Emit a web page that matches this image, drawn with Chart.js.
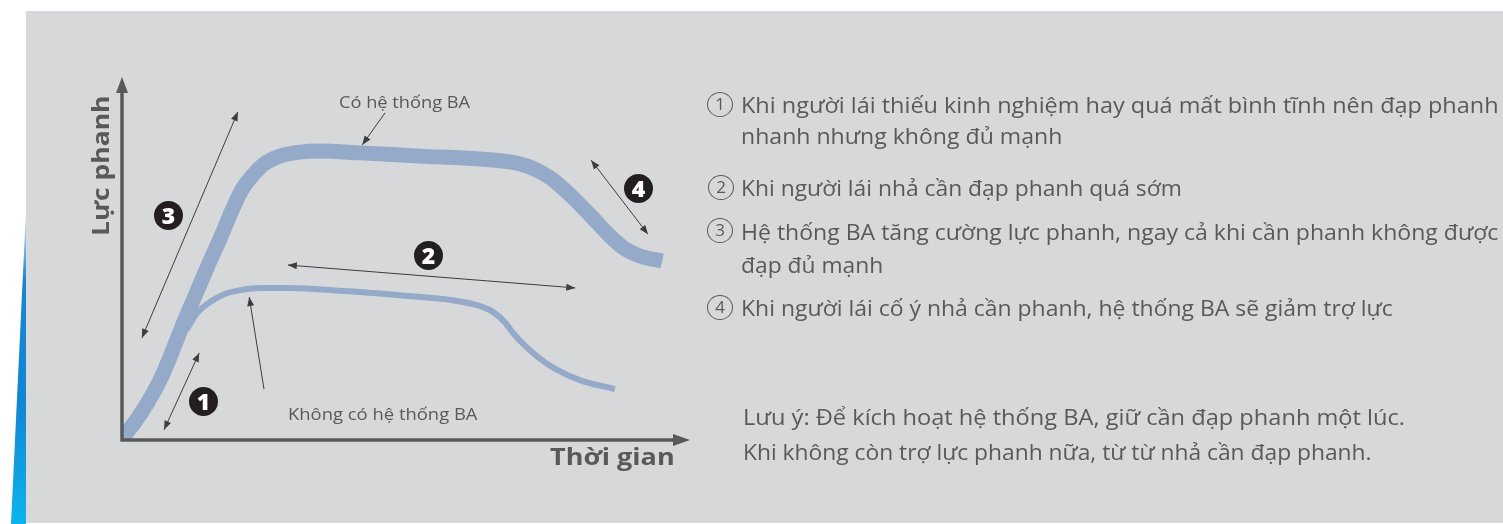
<!DOCTYPE html>
<html lang="vi">
<head>
<meta charset="utf-8">
<script src="https://cdn.jsdelivr.net/npm/chart.js@4.4.1/dist/chart.umd.min.js"></script>
<style>
  html, body { margin:0; padding:0; width:1503px; height:524px; overflow:hidden; background:#ffffff; }
  #panel { position:absolute; left:26px; top:11px; width:1477px; height:512px; background:#d7d8da; }
  #stripe { position:absolute; left:0; top:200px; width:26px; height:324px;
    background:linear-gradient(to bottom, rgba(30,140,215,0) 0px, #1a86d2 80px, #1285d2 200px, #0db4ec 324px);
    clip-path:polygon(26px 10px, 26px 324px, 11px 324px); }
  #c { position:absolute; left:0; top:0; width:1503px; height:524px; }
  .t { position:absolute; white-space:nowrap; line-height:1; color:#58595b; font-family:"Open Sans", sans-serif; transform-origin:0 0; }
  .r { font-size:22px; }
  .lbl { font-size:16px; }
  .ax { font-size:24px; font-weight:700; }
  .num { position:absolute; width:29px; height:29px; border-radius:50%; background:#231f20; color:#fff;
    font-family:"Open Sans", sans-serif; font-weight:800; font-size:23px; line-height:29px; text-align:center; }
  .cn { position:absolute; box-sizing:border-box; width:26px; height:25px; border:1.5px solid #58595b; border-radius:50%; color:#58595b;
    font-family:"Open Sans", sans-serif; font-size:17px; line-height:22px; text-align:center; }
</style>
</head>
<body>
<div id="panel"></div>
<div id="stripe"></div>
<canvas id="c" width="1503" height="524"></canvas>

<div class="t ax" data-w="140" data-rot="1" style="left:88px; top:236px;">Lực phanh</div>
<div class="t ax" data-w="125" style="left:550px; top:444px;">Thời gian</div>
<div class="t lbl" data-w="131" style="left:339px; top:94px;">Có hệ thống BA</div>
<div class="t lbl" data-w="190" style="left:288px; top:406px;">Không có hệ thống BA</div>

<div class="num" style="left:189px; top:387px;">1</div>
<div class="num" style="left:414px; top:241px;">2</div>
<div class="num" style="left:154px; top:201px;">3</div>
<div class="num" style="left:624px; top:174px;">4</div>

<div class="cn" style="left:707px; top:92px;">1</div>
<div class="cn" style="left:708px; top:175px;">2</div>
<div class="cn" style="left:707px; top:218px;">3</div>
<div class="cn" style="left:707px; top:295px;">4</div>

<div class="t r" data-w="758" style="left:741px; top:92.5px;">Khi người lái thiếu kinh nghiệm hay quá mất bình tĩnh nên đạp phanh</div>
<div class="t r" data-w="321" style="left:741px; top:123.5px;">nhanh nhưng không đủ mạnh</div>
<div class="t r" data-w="441" style="left:741px; top:175.5px;">Khi người lái nhả cần đạp phanh quá sớm</div>
<div class="t r" data-w="757" style="left:741px; top:219.5px;">Hệ thống BA tăng cường lực phanh, ngay cả khi cần phanh không được</div>
<div class="t r" data-w="142" style="left:741px; top:252.5px;">đạp đủ mạnh</div>
<div class="t r" data-w="652" style="left:741px; top:295.5px;">Khi người lái cố ý nhả cần phanh, hệ thống BA sẽ giảm trợ lực</div>
<div class="t r" data-w="662" style="left:743px; top:404.5px;">Lưu ý: Để kích hoạt hệ thống BA, giữ cần đạp phanh một lúc.</div>
<div class="t r" data-w="629" style="left:743px; top:439.5px;">Khi không còn trợ lực phanh nữa, từ từ nhả cần đạp phanh.</div>

<script>
// ---- Data (time and brake force, arbitrary units 0..100) ----
const timeBA   = [-0.5, 0.7, 2.3, 4.6, 6.7, 8.8, 10.9, 13.0, 15.1, 17.3, 19.4, 21.1, 22.9, 25.0, 27.8, 31.3, 34.9, 41.9, 52.5, 63.0, 68.3, 71.8, 75.4, 78.9, 82.4, 85.9, 88.6, 91.2, 95.1];
const forceBA  = [-1.5, 1.7, 5.0, 10.5, 16.5, 24.2, 32.5, 40.2, 47.9, 55.6, 63.4, 68.9, 72.7, 76.0, 78.2, 79.3, 79.6, 79.1, 78.2, 77.4, 76.6, 75.2, 72.2, 67.5, 62.0, 56.2, 52.6, 50.7, 49.3];
const timeNoBA  = [11.3, 13.4, 15.5, 18.1, 20.8, 24.3, 29.6, 38.4, 48.9, 57.8, 62.1, 65.3, 67.3, 69.0, 70.8, 73.4, 76.6, 80.6, 86.8];
const forceNoBA = [30.3, 35.3, 38.0, 40.2, 41.3, 41.9, 41.9, 41.1, 39.9, 38.6, 37.3, 35.3, 32.6, 29.2, 26.2, 22.6, 19.3, 16.5, 14.0];
const seriesNames = ["Có hệ thống BA", "Không có hệ thống BA"];

// annotation arrows in data units: [time, force]
const annotationArrows = [
  { from:[3.5, 28.1],  to:[20.4, 90.4], heads:2 },
  { from:[7.4, 2.8],   to:[13.6, 24.0], heads:2 },
  { from:[25.0, 14.0], to:[22.4, 39.4], heads:1 },
  { from:[29.2, 48.2], to:[79.8, 41.9], heads:2 },
  { from:[82.6, 77.1], to:[92.6, 56.7], heads:2 },
  { from:[46.3, 90.1], to:[42.3, 81.3], heads:1 }
];

const toXY = (xs, ys) => xs.map((v, i) => ({ x: v, y: ys[i] }));

function head(ctx, x1, y1, x2, y2, len, hw) {
  const a = Math.atan2(y2 - y1, x2 - x1);
  ctx.beginPath();
  ctx.moveTo(x2, y2);
  ctx.lineTo(x2 - len * Math.cos(a) + hw * Math.sin(a), y2 - len * Math.sin(a) - hw * Math.cos(a));
  ctx.lineTo(x2 - len * Math.cos(a) - hw * Math.sin(a), y2 - len * Math.sin(a) + hw * Math.cos(a));
  ctx.closePath();
  ctx.fill();
}

const decorPlugin = {
  id: 'decor',
  afterDatasetsDraw(chart) {
    const { ctx, chartArea: a, scales: { x, y } } = chart;
    ctx.save();
    // annotation arrows
    ctx.strokeStyle = '#3d3d3f'; ctx.fillStyle = '#3d3d3f'; ctx.lineWidth = 1;
    annotationArrows.forEach(ar => {
      const x1 = x.getPixelForValue(ar.from[0]), y1 = y.getPixelForValue(ar.from[1]);
      const x2 = x.getPixelForValue(ar.to[0]),   y2 = y.getPixelForValue(ar.to[1]);
      ctx.beginPath(); ctx.moveTo(x1, y1); ctx.lineTo(x2, y2); ctx.stroke();
      head(ctx, x1, y1, x2, y2, 9, 3.5);
      if (ar.heads === 2) head(ctx, x2, y2, x1, y1, 9, 3.5);
    });
    // axes with arrowheads
    ctx.strokeStyle = '#58595b'; ctx.fillStyle = '#58595b'; ctx.lineWidth = 3.5;
    ctx.beginPath();
    ctx.moveTo(a.left, a.bottom + 1.75); ctx.lineTo(a.left, a.top + 14);
    ctx.moveTo(a.left - 1.75, a.bottom); ctx.lineTo(a.right - 15, a.bottom);
    ctx.stroke();
    head(ctx, a.left, a.bottom, a.left, a.top, 16, 6);
    head(ctx, a.left, a.bottom, a.right, a.bottom, 17, 6);
    ctx.restore();
  }
};

new Chart(document.getElementById('c'), {
  type: 'line',
  data: {
    datasets: [
      { label: seriesNames[0], data: toXY(timeBA, forceBA), borderColor: '#95a9c8', borderWidth: 15,
        pointRadius: 0, cubicInterpolationMode: 'monotone', clip: 0, borderCapStyle: 'butt', borderJoinStyle: 'round' },
      { label: seriesNames[1], data: toXY(timeNoBA, forceNoBA), borderColor: '#95a9c8', borderWidth: 6,
        pointRadius: 0, cubicInterpolationMode: 'monotone', clip: 0, borderCapStyle: 'butt', borderJoinStyle: 'round' }
    ]
  },
  options: {
    responsive: false, animation: false, devicePixelRatio: 1,
    layout: { padding: { left: 122, top: 77, right: 813, bottom: 84 } },
    scales: {
      x: { type: 'linear', min: 0, max: 100, display: false },
      y: { type: 'linear', min: 0, max: 100, display: false }
    },
    plugins: { legend: { display: false }, tooltip: { enabled: false } }
  },
  plugins: [decorPlugin]
});

// fit text lines to measured widths of the reference
document.querySelectorAll('[data-w]').forEach(el => {
  const s = (+el.dataset.w) / el.offsetWidth;
  el.style.transform = (el.dataset.rot ? 'rotate(-90deg) ' : '') + 'scaleX(' + s.toFixed(4) + ')';
});
</script>
</body>
</html>
